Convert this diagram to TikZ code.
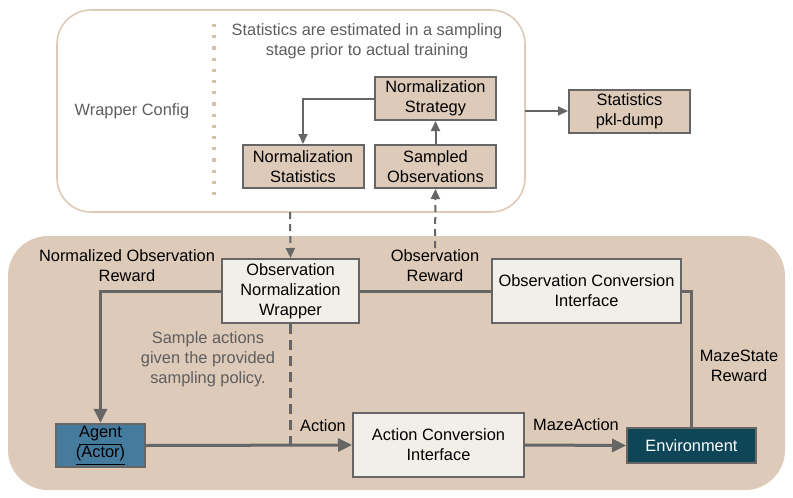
\documentclass[tikz,border=0pt]{standalone}
\usepackage{fontspec}
\setmainfont{Liberation Sans}
\usetikzlibrary{positioning,arrows.meta}
\definecolor{boxtan}{HTML}{DDCAB9}
\definecolor{dottan}{HTML}{D8BFA8}
\definecolor{paletan}{HTML}{F2EFE9}
\definecolor{framegray}{HTML}{666666}
\definecolor{notegray}{HTML}{5E5E5E}
\definecolor{agentblue}{HTML}{457B9D}
\definecolor{envteal}{HTML}{0E4557}
\tikzset{
  statbox/.style={draw=framegray, line width=1pt, fill=boxtan, align=center,
    minimum width=60.5pt, minimum height=21.5pt, inner sep=1pt},
  wrapbox/.style={draw=framegray, line width=1pt, fill=paletan, align=center,
    inner sep=1pt},
  note/.style={text=notegray, align=center},
  label/.style={text=black, align=center},
  flow/.style={draw=framegray, line width=1.5pt,
    -{Triangle[length=7pt, width=6.5pt]}},
  thin flow/.style={draw=framegray, line width=1pt,
    -{Triangle[length=5pt, width=4.5pt]}},
}
\begin{document}
\begin{tikzpicture}[x=0.5pt, y=-0.5pt, font=\fontsize{8.2pt}{10pt}\selectfont]
    \useasboundingbox (0,0) rectangle (793,498);
    \draw [draw=boxtan, line width=0.8pt, fill=white, rounded corners=17pt]
      (57,10) rectangle (525,212);
    \fill [boxtan, rounded corners=20pt] (8,236) rectangle (785,490);
    \draw [dottan, line width=1.6pt, dash pattern=on 1.6pt off 4pt]
      (214,24) -- (214,202);

    \node [note] (sampling) at (367,41)
      {Statistics are estimated in a sampling\\stage prior to actual training};
    \node [note] (config) at (132,111) {Wrapper Config};

    \node [statbox] (strategy) at (435.5,98.5) {Normalization\\Strategy};
    \node [statbox] (statistics) at (303,166.5) {Normalization\\Statistics};
    \node [statbox] (sampled) at (435.5,166.5) {Sampled\\Observations};
    \node [statbox] (dump) at (629.5,111) {Statistics\\pkl-dump};
    \coordinate (configout) at (525,111);
    \coordinate (configbottom) at (290,212);
    \coordinate (obstap) at (435,248);

    \node [wrapbox, minimum width=68.5pt, minimum height=32pt] (normwrapper)
      at (290.5,291) {Observation\\Normalization\\Wrapper};
    \node [wrapbox, minimum width=94.5pt, minimum height=32pt] (obsconv)
      at (586.5,291) {Observation Conversion\\Interface};
    \node [wrapbox, minimum width=85.5pt, minimum height=32pt] (actconv)
      at (438.5,445) {Action Conversion\\Interface};
    \node [draw=framegray, line width=1pt, fill=agentblue, align=center,
      minimum width=44.5pt, minimum height=21.5pt, inner sep=1pt] (agent)
      at (100.5,445.5) {\underline{Agent\vphantom{()}}\\\underline{(Actor)}};
    \node [draw=framegray, line width=1pt, fill=envteal, text=white,
      minimum width=64.5pt, minimum height=17.5pt, inner sep=1pt] (env)
      at (691.5,445.5) {Environment};

    \node [label] (normobs) at (127,266) {Normalized Observation\\Reward};
    \node [label] (obsreward) at (435,266) {Observation\\Reward};
    \node [note] (policy) at (208,359)
      {Sample actions\\given the provided\\sampling policy.};
    \node [label] (action) at (323,426) {Action};
    \node [label] (mazeaction) at (576,425) {MazeAction};
    \node [label] (mazestate) at (739,366) {MazeState\\Reward};

    \draw [thin flow] (strategy.west) -| (statistics.north);
    \draw [thin flow] (sampled.north) -- (strategy.south);
    \draw [thin flow] (configout) -- (dump.west);
    \draw [thin flow, dash pattern=on 3.5pt off 2.5pt] (configbottom) -- (normwrapper.north);
    \draw [thin flow, dash pattern=on 3.5pt off 2.5pt] (obstap) -- (sampled.south);

    \draw [draw=framegray, line width=1.5pt] (obsconv.west) -- (normwrapper.east);
    \draw [flow] (normwrapper.west) -| (agent.north);
    \draw [flow] (agent.east) -- (actconv.west);
    \draw [flow] (actconv.east) -- (env.west);
    \draw [draw=framegray, line width=1.5pt] (env.north) |- (obsconv.east);
    \draw [draw=framegray, line width=1.5pt, dash pattern=on 5pt off 3pt]
      (normwrapper.south) -- (normwrapper.south |- agent.east);
  \end{tikzpicture}
\end{document}
